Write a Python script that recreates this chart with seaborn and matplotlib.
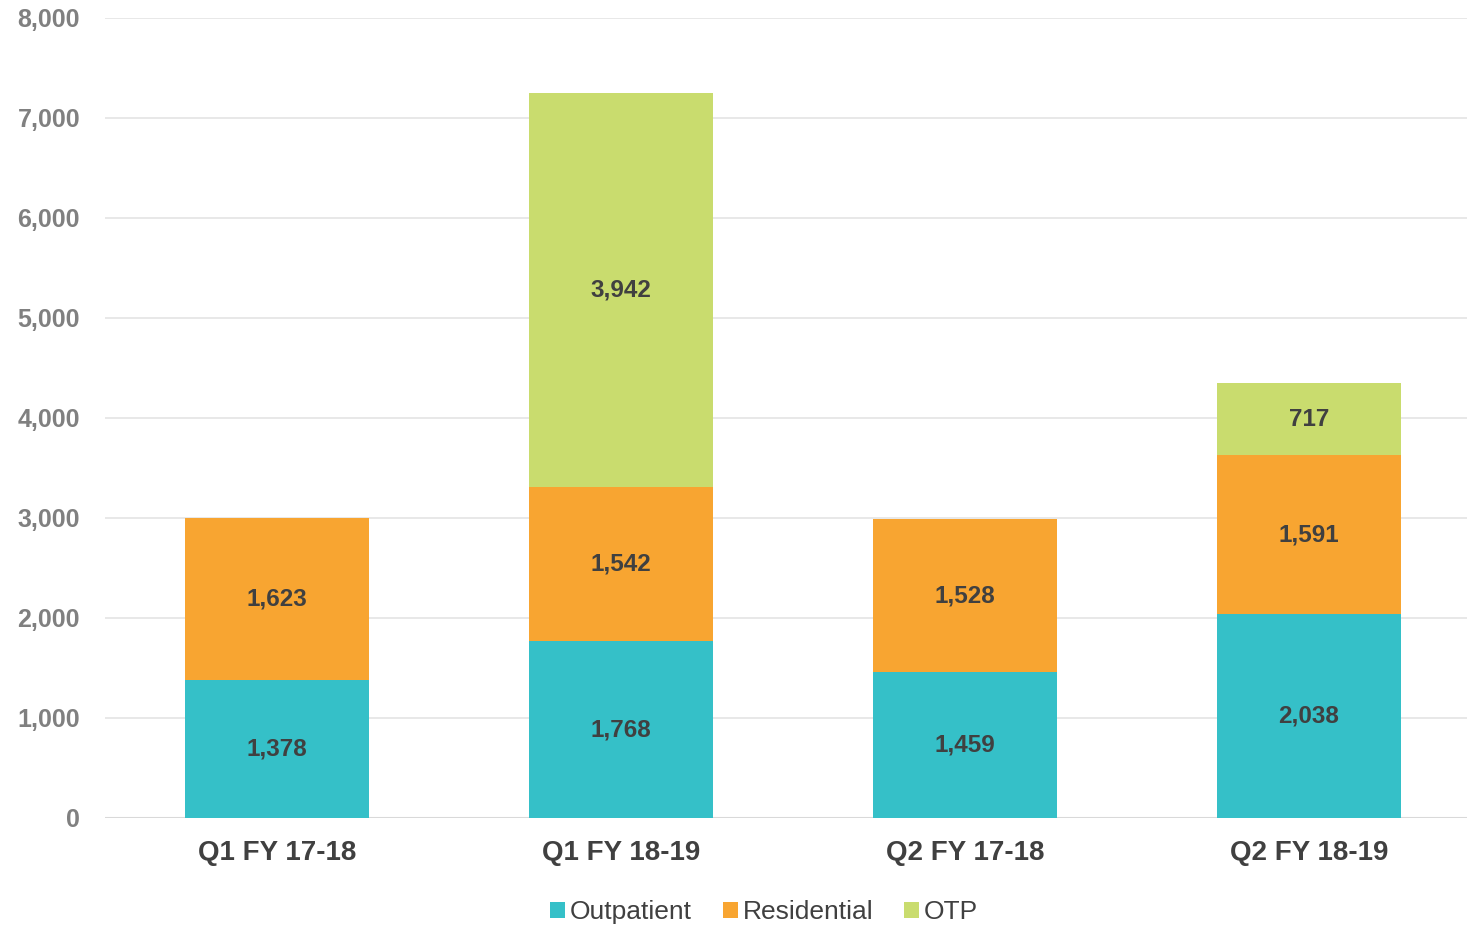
import numpy as np
import pandas as pd
import matplotlib
matplotlib.use('Agg')
import matplotlib.pyplot as plt
import seaborn as sns
from matplotlib.patches import Patch

quarters = ['Q1 FY 17-18', 'Q1 FY 18-19', 'Q2 FY 17-18', 'Q2 FY 18-19']
outpatient = [1378, 1768, 1459, 2038]
residential = [1623, 1542, 1528, 1591]
otp = [0, 3942, 0, 717]

series = ['Outpatient', 'Residential', 'OTP']
colors = ['#35C0C8', '#F8A531', '#C9DC6E']

sns.set_theme(style='white')
plt.rcParams['font.family'] = ['Liberation Sans', 'DejaVu Sans']

fig = plt.figure(figsize=(14.67, 9.27), dpi=100)
ax = fig.add_axes([0.0716, 0.1176, 0.9284, 0.863])

df = pd.DataFrame({'quarter': quarters, 'Outpatient': outpatient,
                   'Residential': residential, 'OTP': otp})

# stack the three series with seaborn bars
bottom = np.zeros(len(quarters))
for name, color in zip(series, colors):
    vals = df[name].values
    sns.barplot(x='quarter', y=name, data=df, color=color, width=0.535,
                bottom=bottom, ax=ax, saturation=1, linewidth=0, zorder=2)
    bottom = bottom + vals

for cont in ax.containers:
    labels = ['{:,}'.format(int(round(b.get_height()))) if b.get_height() > 0 else ''
              for b in cont]
    ax.bar_label(cont, labels=labels, label_type='center', fontsize=17.5,
                 fontweight='bold', color='#404040')

ax.set_ylim(0, 8000)
ax.set_xlim(-0.5, 3.46)
ax.set_yticks(range(0, 8001, 1000))
ax.set_yticklabels(['{:,}'.format(v) for v in range(0, 8001, 1000)])
ax.yaxis.grid(True, color='#E4E4E4', linewidth=1.2, zorder=0)
ax.set_axisbelow(True)
for s in ax.spines.values():
    s.set_visible(False)
ax.axhline(0, color='#D9D9D9', linewidth=1.5, zorder=1)
ax.tick_params(axis='y', length=0, pad=18, labelsize=18, labelcolor='#808080')
ax.tick_params(axis='x', length=0, pad=16, labelsize=20, labelcolor='#404040')
for t in ax.get_yticklabels():
    t.set_fontweight('bold')
for t in ax.get_xticklabels():
    t.set_fontweight('bold')
ax.set_xlabel('')
ax.set_ylabel('')

handles = [Patch(facecolor=c, edgecolor='none') for c in colors]
fig.legend(handles, series, loc='center', bbox_to_anchor=(0.521, 0.016), ncol=3,
           frameon=False, fontsize=19, handlelength=0.55, handleheight=0.55,
           handletextpad=0.2, columnspacing=1.17, labelcolor='#404040')

fig.savefig('out.png', dpi=100)
